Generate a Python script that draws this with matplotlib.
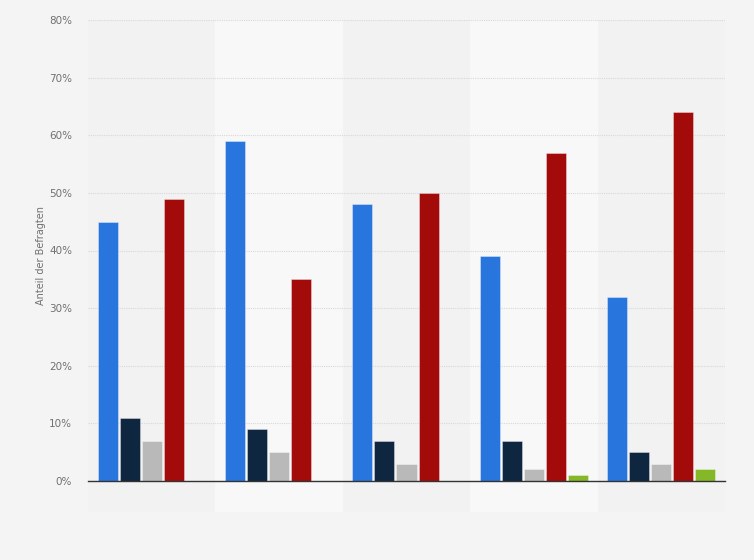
import numpy as np
import matplotlib
matplotlib.use("Agg")
import matplotlib.pyplot as plt
from matplotlib.patches import Rectangle

# values (percent)
groups = ["1", "2", "3", "4", "5"]
blue = [45, 59, 48, 39, 32]
navy = [11, 9, 7, 7, 5]
grey = [7, 5, 3, 2, 3]
red = [49, 35, 50, 57, 64]
green = [0, 0, 0, 1, 2]
yticks = [0, 10, 20, 30, 40, 50, 60, 70, 80]

series = [blue, navy, grey, red, green]
colors = ["#2876dd", "#0f2640", "#b9b9b9", "#a30a0a", "#84b826"]

fig = plt.figure(figsize=(7.54, 5.60), dpi=100)
fig.patch.set_facecolor("#f4f4f4")
ax = fig.add_axes([88 / 754, 1 - 481 / 560, 637 / 754, 461 / 560])
ax.set_facecolor("#f2f2f2")

x = np.arange(len(groups))
ax.set_xlim(-0.5, len(groups) - 0.5)
ax.set_ylim(0, 80)

# alternating column shading, running a bit below the axis
for i in x:
    shade = "#f8f8f8" if i % 2 == 1 else "#f2f2f2"
    ax.add_patch(Rectangle((i - 0.5, -0.067), 1, 1.067, facecolor=shade,
                           edgecolor="none", zorder=0, clip_on=False,
                           transform=ax.get_xaxis_transform()))

step = 0.1727
width = 0.157
for k, (vals, c) in enumerate(zip(series, colors)):
    pos = x + (k - 2) * step
    ax.bar(pos, vals, width=width, color=c, edgecolor=(1, 1, 1, 0.35),
           linewidth=0.7, zorder=3)

ax.set_yticks(yticks)
ax.set_yticklabels([f"{v}%" for v in yticks])
ax.yaxis.grid(True, linestyle=(0, (1, 1)), color="#d8d8d8", linewidth=0.8, zorder=1)
ax.set_axisbelow(True)
ax.set_xticks([])
ax.tick_params(axis="y", length=0, labelsize=7.5, labelcolor="#707070", pad=11.5)

for s in ["top", "right", "left"]:
    ax.spines[s].set_visible(False)
ax.spines["bottom"].set_color("#333333")
ax.spines["bottom"].set_linewidth(1.0)
ax.spines["bottom"].set_zorder(5)

ax.set_ylabel("Anteil der Befragten", fontsize=7, color="#707070")
ax.yaxis.set_label_coords(-0.066, 0.49)

fig.savefig("out.png", dpi=100, facecolor=fig.get_facecolor())
